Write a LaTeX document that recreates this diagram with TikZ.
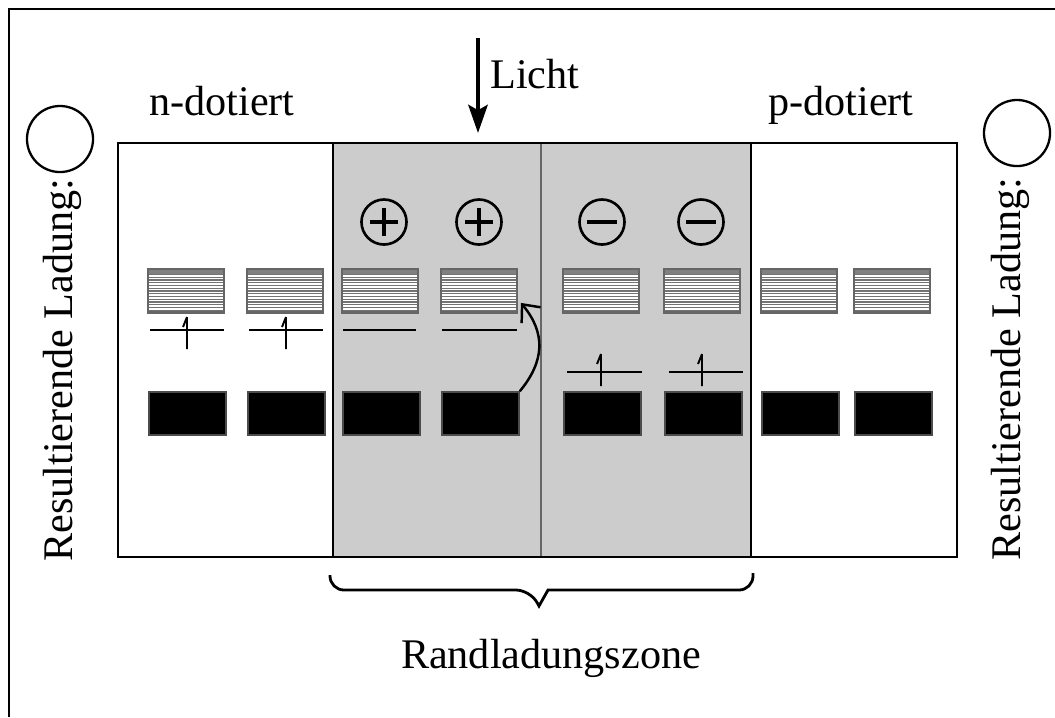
\documentclass[tikz,border=0pt]{standalone}
\usepackage{fontspec}
\setmainfont{Liberation Serif}
\usetikzlibrary{arrows.meta}

\begin{document}
\begin{tikzpicture}[x=0.01cm, y=-0.01cm, font=\fontsize{12}{14}\selectfont]
    \tikzstyle{leitband} = [rectangle, minimum width=0.76cm, minimum height=0.44cm, inner sep=0pt, draw=black!60, line width=0.5pt, fill=white,
        path picture={
            \foreach \k in {1,...,15}
                \draw[black!55, line width=0.3pt] ([yshift=-\k*0.0275cm]path picture bounding box.north west) -- ([yshift=-\k*0.0275cm]path picture bounding box.north east);
            \fill[black!50] (path picture bounding box.north west) rectangle ([yshift=-0.05cm]path picture bounding box.north east);
            \draw[line width=1pt] (path picture bounding box.south west) -- (path picture bounding box.south east);
        }]
    \tikzstyle{valenzband} = [rectangle, minimum width=0.77cm, minimum height=0.43cm, inner sep=0pt, fill=black, draw=black!70]
    \tikzstyle{ladung} = [circle, draw, line width=0.75pt, minimum size=0.45cm, inner sep=0pt]
    \tikzstyle{plusladung} = [ladung, path picture={
            \draw[line width=0.95pt] ([xshift=-0.14cm]path picture bounding box.center) -- ([xshift=0.14cm]path picture bounding box.center);
            \draw[line width=0.95pt] ([yshift=-0.14cm]path picture bounding box.center) -- ([yshift=0.14cm]path picture bounding box.center);
        }]
    \tikzstyle{minusladung} = [ladung, path picture={
            \draw[line width=0.95pt] ([xshift=-0.15cm]path picture bounding box.center) -- ([xshift=0.15cm]path picture bounding box.center);
        }]
    \tikzstyle{kontakt} = [circle, draw, line width=0.65pt, minimum size=0.66cm, inner sep=0pt]
    \tikzstyle{niveau} = [line width=0.55pt]
    \tikzstyle{lichtpfeil} = [line width=1.15pt, -{Stealth[length=8pt, width=5.5pt, inset=1.5pt]}]
    \tikzstyle{sprung} = [line width=0.7pt, -{Straight Barb[length=4pt, width=7pt]}]

    \useasboundingbox (0,0) rectangle (1055,717);
    \draw[line width=0.6pt] (9,717) -- (9,9) -- (1055,9);

    % Kristall mit Randzone
    \draw[line width=0.6pt, fill=white] (118,143) rectangle (957,557);
    \fill[black!20] (333,143) rectangle (751,557);
    \draw[black!60, line width=0.3pt] (541,143) -- (541,557);
    \draw[line width=0.7pt] (333,143) -- (333,557) (751,143) -- (751,557);
    \draw[line width=0.6pt] (118,143) rectangle (957,557);

    % Baender
    \foreach \x [count=\i] in {186,285,380,479,601,702,799,892} {
        \node (cb\i) [leitband] at (\x,291) {};
        \node (vb\i) [valenzband] at (\x+1.5,413.5) {};
    }

    % Niveaus und Elektronen
    \foreach \a/\b/\y in {150/224/330, 249/323/330, 343/416/330, 442/517/330, 567/642/372, 669/743/372}
        \draw[niveau] (\a,\y) -- (\b,\y);
    \foreach \x/\y in {187/333, 286/333, 601/370, 702/370}
        \draw[niveau] (\x,\y-16) -- (\x,\y+16) (\x,\y-16) -- (\x-4,\y-6);

    % Ladungen
    \node (plus1) [plusladung] at (384,222) {};
    \node (plus2) [plusladung] at (479,222) {};
    \node (minus1) [minusladung] at (602,222) {};
    \node (minus2) [minusladung] at (701,222) {};
    \node (kontaktL) [kontakt] at (60,139) {};
    \node (kontaktR) [kontakt] at (1017,133) {};

    \node (ladungL) [rotate=90] at (62,370) {Resultierende Ladung:};
    \node (ladungR) [rotate=90] at (1010,369) {Resultierende Ladung:};
    \node (ndot) [anchor=base] at (222,115) {n-dotiert};
    \node (pdot) [anchor=base] at (841,115) {p-dotiert};
    \node (licht) [anchor=base] at (535,88) {Licht};
    \node (zone) [anchor=base] at (551,668) {Randladungszone};

    \coordinate (lichtquelle) at (478,38);
    \coordinate (lichtziel) at (478,133);
    \draw [lichtpfeil] (lichtquelle) -- (lichtziel);

    \draw [sprung] (vb4.north east) .. controls +(25,-30) and +(25,30) .. ([shift={(3,-11)}]cb4.south east);

    % Klammer
    \draw[line width=0.8pt, rounded corners=0.14cm] (330,575) |- (530,590) [sharp corners] -- (539,606) -- (548,590) [rounded corners=0.14cm] -| (753,573);
\end{tikzpicture}
\end{document}
